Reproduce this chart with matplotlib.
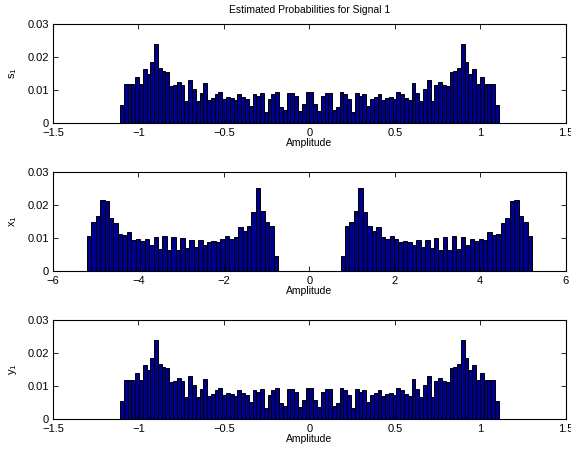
import numpy as np
import matplotlib.pyplot as plt

plt.rcParams['font.family'] = ['Liberation Sans', 'DejaVu Sans']
plt.rcParams['font.size'] = 7

# estimated probabilities, 100 bins each
s1_probs = [
    0.0055, 0.0117, 0.0117, 0.0117, 0.0141, 0.0117, 0.0163, 0.0150, 0.0184, 0.0241,
    0.0167, 0.0159, 0.0155, 0.0112, 0.0115, 0.0124, 0.0115, 0.0067, 0.0131, 0.0102,
    0.0067, 0.0090, 0.0121, 0.0071, 0.0076, 0.0087, 0.0093, 0.0073, 0.0079, 0.0076,
    0.0070, 0.0087, 0.0079, 0.0073, 0.0053, 0.0087, 0.0082, 0.0090, 0.0033, 0.0073,
    0.0087, 0.0093, 0.0050, 0.0039, 0.0091, 0.0090, 0.0081, 0.0036, 0.0057, 0.0093,
    0.0093, 0.0057, 0.0036, 0.0081, 0.0090, 0.0091, 0.0039, 0.0050, 0.0093, 0.0087,
    0.0073, 0.0033, 0.0090, 0.0082, 0.0087, 0.0053, 0.0073, 0.0079, 0.0087, 0.0070,
    0.0076, 0.0079, 0.0073, 0.0093, 0.0087, 0.0076, 0.0071, 0.0121, 0.0090, 0.0067,
    0.0102, 0.0131, 0.0067, 0.0115, 0.0124, 0.0115, 0.0112, 0.0155, 0.0159, 0.0167,
    0.0241, 0.0184, 0.0150, 0.0163, 0.0117, 0.0141, 0.0117, 0.0117, 0.0117, 0.0055,
]

x1_probs = [
    0.0105, 0.0148, 0.0166, 0.0214, 0.0212, 0.0160, 0.0145, 0.0112, 0.0108, 0.0118,
    0.0093, 0.0097, 0.0091, 0.0098, 0.0078, 0.0104, 0.0068, 0.0105, 0.0064, 0.0104,
    0.0065, 0.0099, 0.0069, 0.0095, 0.0073, 0.0093, 0.0080, 0.0088, 0.0090, 0.0087,
    0.0097, 0.0107, 0.0096, 0.0103, 0.0133, 0.0120, 0.0137, 0.0179, 0.0252, 0.0181,
    0.0150, 0.0138, 0.0045,
    0, 0, 0, 0, 0, 0, 0, 0, 0, 0, 0, 0, 0, 0,
    0.0045, 0.0138, 0.0150, 0.0181, 0.0252, 0.0179, 0.0137, 0.0120, 0.0133, 0.0103,
    0.0096, 0.0107, 0.0097, 0.0087, 0.0090, 0.0088, 0.0080, 0.0093, 0.0073, 0.0095,
    0.0069, 0.0099, 0.0065, 0.0104, 0.0064, 0.0105, 0.0068, 0.0104, 0.0078, 0.0098,
    0.0091, 0.0097, 0.0093, 0.0118, 0.0108, 0.0112, 0.0145, 0.0160, 0.0212, 0.0214,
    0.0166, 0.0148, 0.0105,
]

y1_probs = [
    0.0055, 0.0117, 0.0117, 0.0117, 0.0141, 0.0117, 0.0163, 0.0150, 0.0184, 0.0241,
    0.0167, 0.0159, 0.0155, 0.0112, 0.0115, 0.0124, 0.0115, 0.0067, 0.0131, 0.0102,
    0.0067, 0.0090, 0.0121, 0.0071, 0.0076, 0.0087, 0.0093, 0.0073, 0.0079, 0.0076,
    0.0070, 0.0087, 0.0079, 0.0073, 0.0053, 0.0087, 0.0082, 0.0090, 0.0033, 0.0073,
    0.0087, 0.0093, 0.0050, 0.0039, 0.0091, 0.0090, 0.0081, 0.0036, 0.0057, 0.0093,
    0.0093, 0.0057, 0.0036, 0.0081, 0.0090, 0.0091, 0.0039, 0.0050, 0.0093, 0.0087,
    0.0073, 0.0033, 0.0090, 0.0082, 0.0087, 0.0053, 0.0073, 0.0079, 0.0087, 0.0070,
    0.0076, 0.0079, 0.0073, 0.0093, 0.0087, 0.0076, 0.0071, 0.0121, 0.0090, 0.0067,
    0.0102, 0.0131, 0.0067, 0.0115, 0.0124, 0.0115, 0.0112, 0.0155, 0.0159, 0.0167,
    0.0241, 0.0184, 0.0150, 0.0163, 0.0117, 0.0141, 0.0117, 0.0117, 0.0117, 0.0055,
]

# signal ranges (min, max) used for the histogram bins
s1_range = (-1.108, 1.108)
x1_range = (-5.21, 5.21)
y1_range = (-1.108, 1.108)

s_ticks = [-1.5, -1, -0.5, 0, 0.5, 1, 1.5]
s_ticklabels = ['\u22121.5', '\u22121', '\u22120.5', '0', '0.5', '1', '1.5']
x_ticks = [-6, -4, -2, 0, 2, 4, 6]
x_ticklabels = ['\u22126', '\u22124', '\u22122', '0', '2', '4', '6']

fig = plt.figure(figsize=(5.71, 4.54), dpi=100)

panels = [
    (s1_probs, s1_range, 's_1', s_ticks, s_ticklabels, (-1.5, 1.5), 0.729),
    (x1_probs, x1_range, 'x_1', x_ticks, x_ticklabels, (-6, 6), 0.403),
    (y1_probs, y1_range, 'y_1', s_ticks, s_ticklabels, (-1.5, 1.5), 0.077),
]

for i, (probs, rng, name, ticks, labels, xlim, bottom) in enumerate(panels):
    ax = fig.add_axes([0.0928, bottom, 0.898, 0.218])
    edges = np.linspace(rng[0], rng[1], len(probs) + 1)
    centers = (edges[:-1] + edges[1:]) / 2
    width = edges[1] - edges[0]
    ax.bar(centers, probs, width=width, color='#00008F', edgecolor='black', linewidth=0.7)

    ax.set_xlim(*xlim)
    ax.set_ylim(0, 0.03)
    ax.set_xticks(ticks)
    ax.set_xticklabels(labels)
    ax.set_yticks([0, 0.01, 0.02, 0.03])
    ax.set_yticklabels(['0', '0.01', '0.02', '0.03'])
    ax.tick_params(direction='in', top=True, right=True, length=3.5, width=0.6,
                   labelsize=8)
    ax.tick_params(axis='x', pad=3.5)
    ax.tick_params(axis='y', pad=3)
    for sp in ax.spines.values():
        sp.set_linewidth(0.8)
    ax.set_xlabel('Amplitude', fontsize=7.5, labelpad=0)
    ax.set_ylabel('$\\mathregular{' + name + '}$', fontsize=8, labelpad=6)
    if i == 0:
        ax.set_title('Estimated Probabilities for Signal 1', fontsize=7.5, pad=8)

plt.savefig('out.png', dpi=100)
